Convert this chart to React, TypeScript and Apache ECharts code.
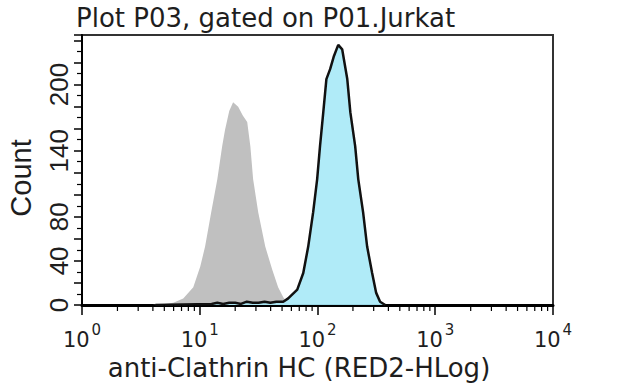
import React, { useEffect, useRef } from 'react';
import * as echarts from 'echarts';

const TITLE = 'Plot P03, gated on P01.Jurkat';
const X_NAME = 'anti-Clathrin HC (RED2-HLog)';
const Y_NAME = 'Count';
const Y_LABELS = [0, 40, 80, 140, 200];
const MINOR_X = [
  2, 3, 4, 5, 6, 7, 8, 9,
  20, 30, 40, 50, 60, 70, 80, 90,
  200, 300, 400, 500, 600, 700, 800, 900,
  2000, 3000, 4000, 5000, 6000, 7000, 8000, 9000,
];

// Isotype / unstained control (grey)
const CONTROL_X = [3.98, 5.0, 5.96, 7.24, 8.81, 10.1, 11.1, 12.5, 14.1, 15.5, 16.4, 17.8, 19.2, 21.2, 23.2, 25.3, 26.9, 28.4, 31.4, 36.0, 41.3, 46.3, 51.2, 55.3, 63.0];
const CONTROL_Y = [0, 1, 2, 6, 16, 35, 53, 84, 114, 144, 159, 176, 184, 180, 172, 166, 144, 114, 84, 53, 32, 16, 7, 2, 0];

// anti-Clathrin HC stained (blue)
const STAINED_X = [4.2, 12.6, 14.1, 15.8, 17.8, 20.0, 22.4, 25.1, 28.2, 31.6, 35.5, 39.8, 44.7, 51.2, 56.4, 67.3, 75.7, 83.4, 91.8, 99.3, 105, 112, 119, 128, 138, 150, 162, 179, 190, 209, 222, 244, 264, 291, 315, 340, 376];
const STAINED_Y = [0, 1, 2, 1, 2, 2, 1, 3, 2, 2, 3, 2, 3, 3, 6, 14, 29, 53, 84, 114, 144, 175, 205, 214, 226, 236, 232, 205, 175, 144, 114, 84, 53, 29, 11, 3, 0];

const TXT = '#1e1e1e';

export default function App() {
  const ref = useRef<HTMLDivElement>(null);
  useEffect(() => {
    if (!ref.current) return;
    const chart = echarts.init(ref.current, null, { renderer: 'svg' });
    const option: any = {
      animation: false,
      backgroundColor: '#ffffff',
      title: {
        text: TITLE,
        left: 76,
        top: 5,
        padding: 0,
        textStyle: { fontFamily: 'DejaVu Sans', fontSize: 26, fontWeight: 'normal', color: TXT },
      },
      grid: {
        left: 82,
        right: 87,
        top: 35,
        bottom: 80,
        containLabel: false,
        outerBoundsMode: 'none',
        show: true,
        borderColor: '#333',
        borderWidth: 2,
        backgroundColor: 'transparent',
      },
      xAxis: {
        type: 'log',
        logBase: 10,
        min: 1,
        max: 10000,
        name: X_NAME,
        nameLocation: 'middle',
        nameGap: 43,
        nameTextStyle: { fontFamily: 'DejaVu Sans', fontSize: 26, color: TXT, padding: [0, 37, 0, 0] },
        axisLine: { show: true, lineStyle: { color: '#000', width: 3 } },
        axisTick: { show: true, length: 10, lineStyle: { color: '#000', width: 1.5 } },
        splitLine: { show: false },
        minorTick: { show: false },
        axisLabel: {
          margin: 17,
          formatter: (v: number) => `{b|10}{s|${Math.round(Math.log10(v))}}`,
          rich: {
            b: { fontFamily: 'DejaVu Sans', fontSize: 21, color: TXT, lineHeight: 28, verticalAlign: 'bottom' },
            s: { fontFamily: 'DejaVu Sans', fontSize: 15, color: TXT, lineHeight: 28, verticalAlign: 'top', padding: [0, 0, 0, 2] },
          },
        },
      },
      yAxis: {
        type: 'value',
        min: 0,
        max: 245,
        interval: 20,
        name: Y_NAME,
        nameLocation: 'middle',
        nameRotate: 90,
        nameGap: 47,
        nameTextStyle: { fontFamily: 'Liberation Sans', fontSize: 29, color: TXT, padding: [0, 16, 0, 0] },
        axisLine: { show: true, lineStyle: { color: '#000', width: 2 } },
        axisTick: { show: true, length: 8, lineStyle: { color: '#000', width: 1.5 } },
        minorTick: { show: true, splitNumber: 2, length: 5, lineStyle: { color: '#000', width: 1.2 } },
        splitLine: { show: false },
        axisLabel: {
          rotate: 90,
          margin: 10,
          fontFamily: 'Liberation Sans',
          fontSize: 26,
          color: TXT,
          showMaxLabel: false,
          formatter: (v: number) => (Y_LABELS.indexOf(v) >= 0 ? String(v) : ''),
        },
      },
      series: [
        {
          type: 'line',
          data: CONTROL_X.map((x, i) => [x, CONTROL_Y[i]]),
          showSymbol: false,
          symbol: 'none',
          lineStyle: { width: 0, color: '#c0c0c0' },
          itemStyle: { color: '#c0c0c0' },
          areaStyle: { color: '#c0c0c0', opacity: 1 },
          z: 2,
        },
        {
          type: 'line',
          data: STAINED_X.map((x, i) => [x, STAINED_Y[i]]),
          showSymbol: false,
          symbol: 'none',
          lineStyle: { width: 2.5, color: '#111' },
          itemStyle: { color: '#111' },
          areaStyle: { color: '#a9e9f7', opacity: 0.92 },
          z: 3,
        },
        {
          type: 'custom',
          coordinateSystem: 'cartesian2d',
          silent: true,
          clip: false,
          z: 5,
          data: MINOR_X.map((x) => [x, 0]),
          renderItem: (_params: any, api: any) => {
            const p = api.coord([api.value(0), 0]);
            return {
              type: 'line',
              shape: { x1: p[0], y1: p[1], x2: p[0], y2: p[1] + 6 },
              style: { stroke: '#000', lineWidth: 1.2 },
            };
          },
        },
      ],
    };
    chart.setOption(option);
    return () => chart.dispose();
  }, []);
  return (
    <div
      ref={ref}
      style={{ position: 'fixed', left: 0, top: 0, width: 640, height: 385, background: '#fff' }}
    />
  );
}
